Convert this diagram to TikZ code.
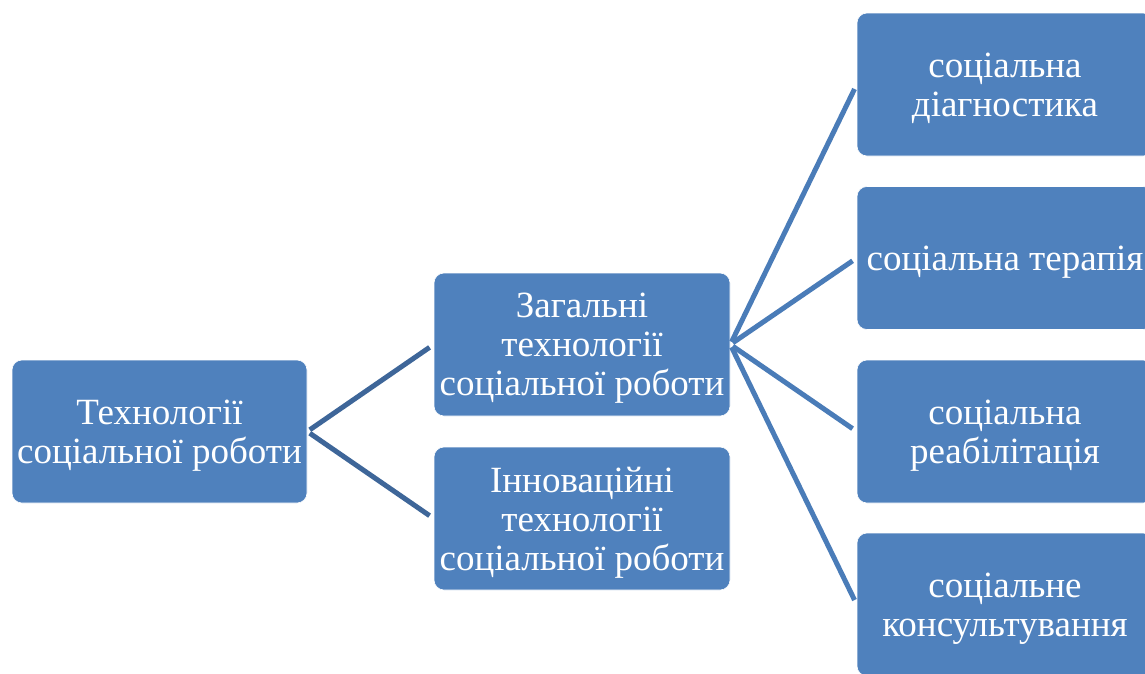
\documentclass[tikz,border=0pt]{standalone}
\usepackage{fontspec}
\setmainfont{Liberation Serif}
\definecolor{boxblue}{HTML}{4F81BD}
\definecolor{linkdark}{HTML}{3E6699}
\definecolor{linkblue}{HTML}{4A7CB8}
\begin{document}
\begin{tikzpicture}[x=1pt,y=-1pt,
	box/.style={rounded corners=10pt, fill=boxblue, draw=white, line width=0.6pt, text=white,
		minimum width=296pt, minimum height=143pt, align=center, inner sep=0pt, text depth=0pt,
		font=\fontsize{37}{39}\selectfont},
	link/.style={line width=5pt, shorten <=3pt, shorten >=5pt}]
	\clip (0,0) rectangle (1145,673);
	\fill[white] (0,0) rectangle (1145,673); %background
	
	\node[box, minimum width=295pt] at (159.5,431.5) (tech) {Технології\\соціальної роботи};
	\node[box] at (582,344.5) (general) {Загальні\\технології\\соціальної роботи};
	\node[box] at (582,518.5) (innov) {Інноваційні\\технології\\соціальної роботи};
	\node[box] at (1005,84.5) (diag) {соціальна\\діагностика};
	\node[box] at (1005,258) (therapy) {соціальна терапія};
	\node[box] at (1005,431.5) (rehab) {соціальна\\реабілітація};
	\node[box] at (1005,604.5) (consult) {соціальне\\консультування};
	
	\draw[link, linkdark] (tech.east) -- (general.west);
	\draw[link, linkdark] (tech.east) -- (innov.west);
	\draw[link, linkblue] (general.east) -- (diag.west);
	\draw[link, linkblue] (general.east) -- (therapy.west);
	\draw[link, linkblue] (general.east) -- (rehab.west);
	\draw[link, linkblue] (general.east) -- (consult.west);
\end{tikzpicture}
\end{document}
